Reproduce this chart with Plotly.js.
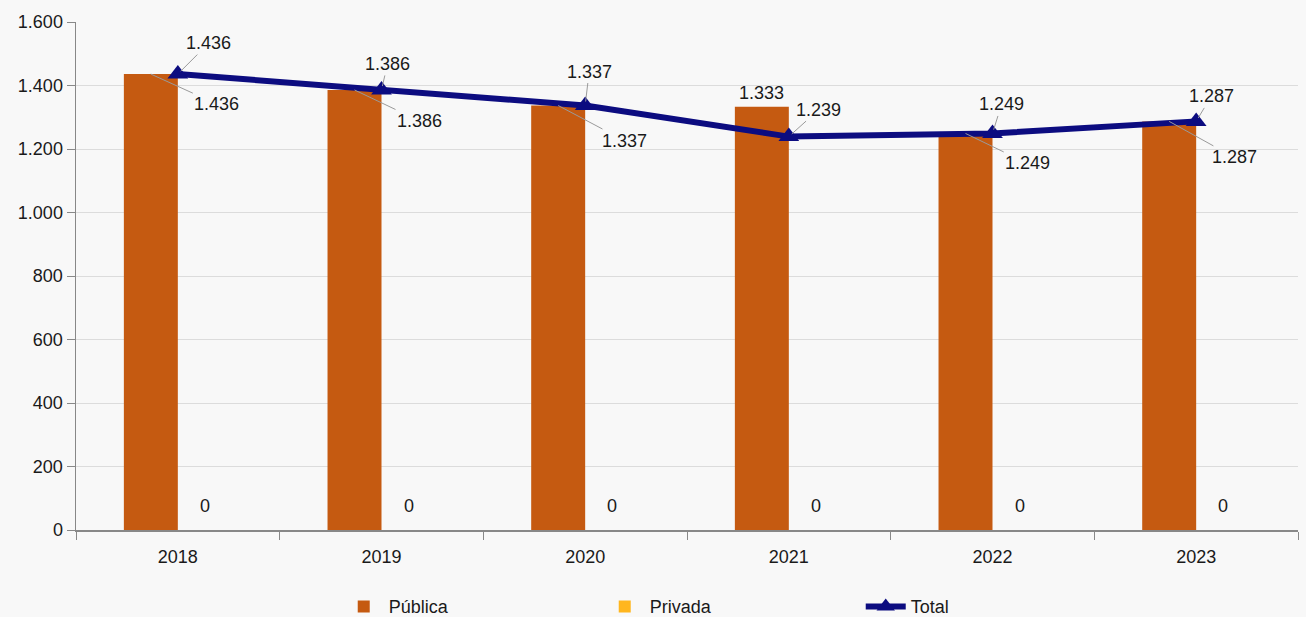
<!DOCTYPE html>
<html>
<head>
<meta charset="utf-8">
<script src="https://cdn.plot.ly/plotly-3.0.1.min.js"></script>
<style>
html,body{margin:0;padding:0;background:#f8f8f8;}
#chart{width:1306px;height:617px;}
</style>
</head>
<body>
<div id="chart"></div>
<script>
const years = ['2018', '2019', '2020', '2021', '2022', '2023'];
const publica = [1436, 1386, 1337, 1333, 1249, 1287];
const privada = [0, 0, 0, 0, 0, 0];
const total = [1436, 1386, 1337, 1239, 1249, 1287];
const yTicks = [0, 200, 400, 600, 800, 1000, 1200, 1400, 1600];

function fmt(v) { return String(v).replace(/\B(?=(\d{3})+(?!\d))/g, '.'); }

const FONT = 'Liberation Sans, Arial, sans-serif';

// label offsets (styling only)
const pubOff = [[66, 30], [65, 31], [66, 35], null, [62, 30], [65, 36]];
const totOff = [[31, -31], [6, -26], [4, -34], [30, -27], [9, -29], [15, -25]];

const annotations = [];
years.forEach((yr, i) => {
  const po = pubOff[i];
  if (po) {
    annotations.push({x: i, y: publica[i], xref: 'x', yref: 'y', xshift: -27,
      text: fmt(publica[i]), showarrow: true, arrowhead: 0, arrowwidth: 1, arrowcolor: '#9a9a9a',
      ax: po[0], ay: po[1], standoff: 0, font: {family: FONT, size: 18, color: '#1a1a1a'}});
  } else {
    annotations.push({x: i, y: publica[i], xref: 'x', yref: 'y', xshift: -27, yshift: 14,
      text: fmt(publica[i]), showarrow: false, font: {family: FONT, size: 18, color: '#1a1a1a'}});
  }
  const to = totOff[i];
  annotations.push({x: i, y: total[i], xref: 'x', yref: 'y',
    text: fmt(total[i]), showarrow: true, arrowhead: 0, arrowwidth: 1, arrowcolor: '#9a9a9a',
    ax: to[0], ay: to[1], standoff: 4, font: {family: FONT, size: 18, color: '#1a1a1a'}});
  annotations.push({x: i, y: privada[i], xref: 'x', yref: 'y', xshift: 27, yshift: 24,
    text: fmt(privada[i]), showarrow: false, font: {family: FONT, size: 18, color: '#1a1a1a'}});
});

const data = [
  {type: 'bar', name: 'Pública', x: years, y: publica, marker: {color: '#c55a11'}, hoverinfo: 'skip'},
  {type: 'bar', name: 'Privada', x: years, y: privada, marker: {color: '#ffb61e'}, hoverinfo: 'skip'},
  {type: 'scatter', mode: 'lines+markers', name: 'Total', x: years, y: total,
   line: {color: '#0c0c80', width: 6}, marker: {symbol: 'triangle-up', size: 18, color: '#0c0c80'}, hoverinfo: 'skip'}
];

const layout = {
  width: 1306, height: 617,
  paper_bgcolor: '#f8f8f8', plot_bgcolor: '#f8f8f8',
  margin: {l: 76, r: 8, t: 22, b: 87, autoexpand: false},
  separators: ',.',
  barmode: 'group', bargap: 0.47, bargroupgap: 0,
  showlegend: true,
  legend: {orientation: 'h', x: 0.215, xanchor: 'left', y: -0.151, yanchor: 'middle',
    font: {family: FONT, size: 18, color: '#1a1a1a'}, entrywidth: 206, itemwidth: 40,
    bgcolor: 'rgba(0,0,0,0)'},
  xaxis: {type: 'category', range: [-0.5, 5.5], autorange: false, tickson: 'boundaries', ticks: 'outside', ticklen: 8, tickcolor: '#888',
    showline: true, linecolor: '#888', linewidth: 1.5, showgrid: false, ticklabelstandoff: 10,
    tickfont: {family: FONT, size: 18, color: '#1a1a1a'}},
  yaxis: {range: [0, 1600], autorange: false, tickvals: yTicks, ticktext: yTicks.map(fmt), ticks: 'outside', ticklen: 8,
    tickcolor: '#888', showline: true, linecolor: '#888', linewidth: 1.5,
    gridcolor: '#dcdcdc', gridwidth: 1, zeroline: false,
    tickfont: {family: FONT, size: 18, color: '#1a1a1a'}},
  annotations: annotations
};

Plotly.newPlot('chart', data, layout, {displayModeBar: false, staticPlot: true});
</script>
</body>
</html>
